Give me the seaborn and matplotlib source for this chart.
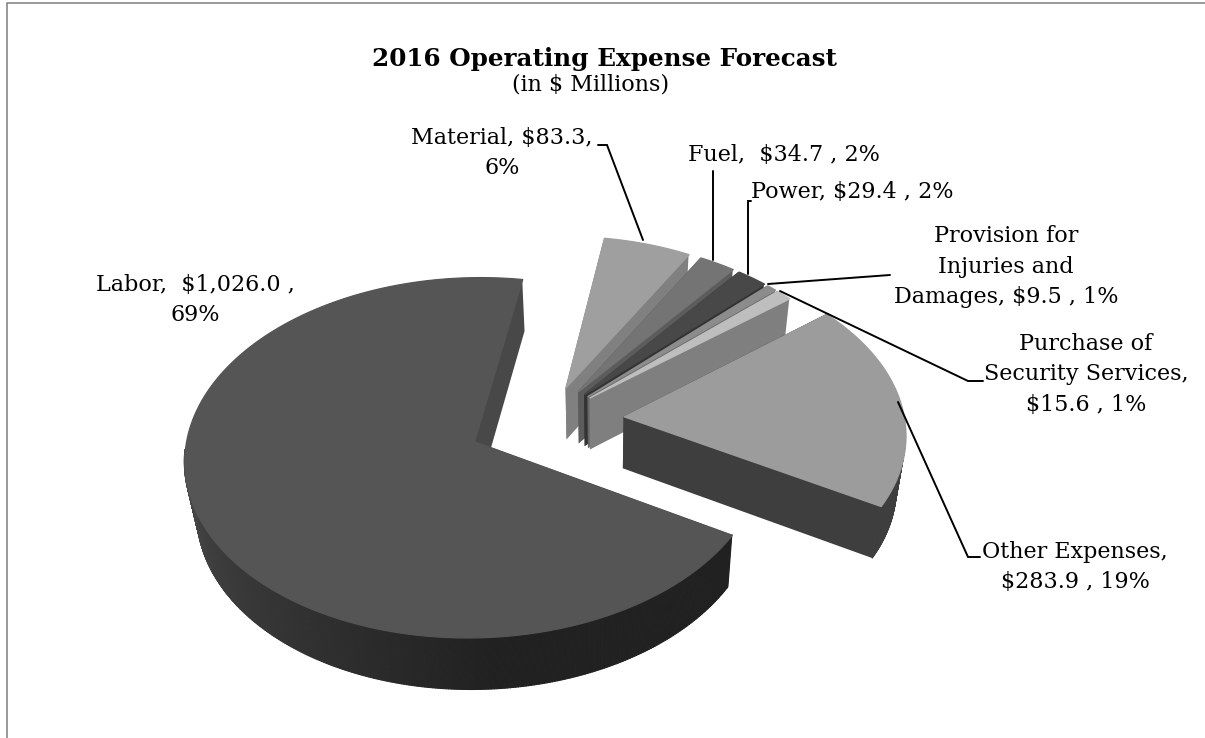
import numpy as np
import seaborn as sns
import matplotlib.pyplot as plt
from matplotlib.collections import PolyCollection

# --- data ---
categories = ['Labor', 'Material', 'Fuel', 'Power', 'Provision for Injuries and Damages',
              'Purchase of Security Services', 'Other Expenses']
values = [1026.0, 83.3, 34.7, 29.4, 9.5, 15.6, 283.9]
label_texts = ['Labor,  $1,026.0 ,\n69%', 'Material, $83.3,\n6%', 'Fuel,  $34.7 , 2%', 'Power, $29.4 , 2%',
               'Provision for\nInjuries and\nDamages, $9.5 , 1%', 'Purchase of\nSecurity Services,\n$15.6 , 1%',
               'Other Expenses,\n$283.9 , 19%']

# --- layout / styling ---
label_pos = [(195, 300), (502, 153), (784, 155), (852, 192), (1006, 267), (1086, 374), (1075, 567)]
explode = [0.28, 0.20, 0.20, 0.20, 0.20, 0.20, 0.27]
radius = [1.0, 0.97, 0.97, 0.97, 0.97, 0.97, 0.985]
top_colors = ['#555555', '#9f9f9f', '#747474', '#484848', '#8c8c8c', '#bebebe', '#9c9c9c']
side_colors = ['#484848', '#808080', '#5c5c5c', '#333333', '#666666', '#7f7f7f', '#3e3e3e']
rim_colors = [('#212121', '#4a4a4a'), ('#808080', '#808080'), ('#5c5c5c', '#5c5c5c'), ('#333333', '#333333'),
              ('#666666', '#666666'), ('#7f7f7f', '#7f7f7f'), ('#3e3e3e', '#3e3e3e')]
leaders = [None,
           [(598, 145), (607, 145), (643, 240)],
           [(713, 171), (713, 260)],
           [(751, 201), (748, 201), (748, 274)],
           [(890, 275), (768, 284)],
           [(983, 381), (968, 381), (780, 291)],
           [(980, 557), (968, 557), (898, 402)]]
START_ANGLE = 30.0
CX, CY = 547, 420
RX, RY, PERSP = 285, 175, 0.088
DEPTH, BOTTOM_SCALE, VANISH_X = 52, 0.97, 600
FONT = 'DejaVu Serif'


def project(X, Y, bottom=False):
    w = 1 - PERSP * Y
    x = CX + RX * X / w
    y = CY + RY * Y / w
    if bottom:
        x = VANISH_X + (x - VANISH_X) * BOTTOM_SCALE
        y = y + DEPTH
    return np.column_stack([x, y])


sns.set_theme(style='white')
plt.rcParams['font.family'] = [FONT, 'DejaVu Sans']
fig, ax = plt.subplots(figsize=(12.05, 7.38), dpi=100)
fig.subplots_adjust(0, 0, 1, 1)
ax.set_xlim(0, 1205)
ax.set_ylim(738, 0)
ax.axis('off')

# chart frame, only top and left are in the picture
ax.plot([7, 7, 1205], [738, 2.5, 2.5], color='#868686', lw=1.2, zorder=1)

# --- slices, back to front ---
sweeps = np.array(values) / sum(values) * 360
starts = START_ANGLE + np.concatenate([[0], np.cumsum(sweeps)[:-1]])
draw_order = [1, 2, 3, 4, 5, 6, 0]
z = 2
for i in draw_order:
    theta = np.radians(np.linspace(starts[i], starts[i] + sweeps[i], max(int(sweeps[i] * 2), 6)))
    mid = np.radians(starts[i] + sweeps[i] / 2)
    ox, oy = explode[i] * np.cos(mid), explode[i] * np.sin(mid)
    arc_x = ox + radius[i] * np.cos(theta)
    arc_y = oy + radius[i] * np.sin(theta)

    top_arc = project(arc_x, arc_y)
    low_arc = project(arc_x, arc_y, bottom=True)
    apex_top = project(np.array([ox]), np.array([oy]))
    apex_low = project(np.array([ox]), np.array([oy]), bottom=True)

    # radial walls
    walls = [np.vstack([apex_top, top_arc[0], low_arc[0], apex_low]),
             np.vstack([apex_top, top_arc[-1], low_arc[-1], apex_low])]
    ax.add_collection(PolyCollection(walls, facecolors=side_colors[i], edgecolors='none', zorder=z))
    z += 1

    # rim, only where it faces the viewer, shaded by the angle around the slice
    n = len(theta) - 1
    keep = [k for k in range(n) if np.sin(theta[k]) > 0.05]
    if keep:
        quads = [np.vstack([top_arc[k], top_arc[k + 1], low_arc[k + 1], low_arc[k]]) for k in keep]
        shades = sns.blend_palette(list(rim_colors[i]), n_colors=n)
        if i == 0:
            # flat dark up to the bottom of the pie, then lighter towards the left
            s = np.clip((np.degrees(theta[:-1]) - 85) / 95, 0, 1)
            shades = [shades[int(v * (n - 1))] for v in s]
        shades = [shades[k] for k in keep]
        ax.add_collection(PolyCollection(quads, facecolors=shades, edgecolors=shades, linewidths=0.8, zorder=z))
    z += 1

    # top face
    ax.add_collection(PolyCollection([np.vstack([apex_top, top_arc])], facecolors=top_colors[i],
                                     edgecolors=top_colors[i], linewidths=0.9, zorder=z))
    z += 1

# --- texts ---
ax.text(604, 59, '2016 Operating Expense Forecast', ha='center', va='center', fontsize=17.7,
        fontweight='bold', color='black', zorder=50)
ax.text(591, 85, '(in $ Millions)', ha='center', va='center', fontsize=16, color='black', zorder=50)

for text, pos, line in zip(label_texts, label_pos, leaders):
    ax.text(pos[0], pos[1], text, ha='center', va='center', fontsize=16, color='black',
            linespacing=1.5, zorder=50)
    if line is not None:
        xs, ys = zip(*line)
        ax.plot(xs, ys, color='black', lw=1.4, zorder=40, solid_joinstyle='miter')

fig.savefig('out.png', dpi=100)
